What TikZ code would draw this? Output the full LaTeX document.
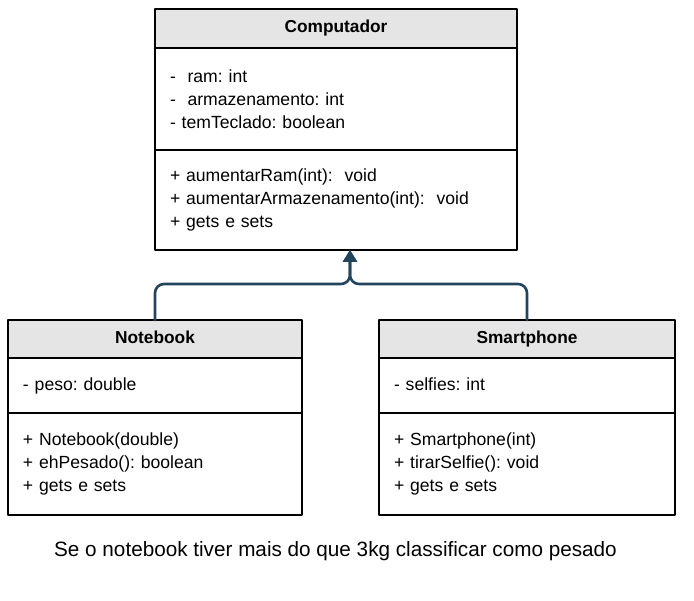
\documentclass[tikz,border=0pt]{standalone}
\usepackage{fontspec}
\setmainfont{Liberation Sans}
\frenchspacing
\usetikzlibrary{arrows.meta,positioning}
\definecolor{hdgray}{rgb}{0.9,0.9,0.9}
\definecolor{arrblue}{HTML}{23445D}

\begin{document}
\begin{tikzpicture}[line cap=round,line join=round,>={Triangle[length=12pt,width=14pt]},x=1pt,y=1pt,
	classhead/.style={draw,fill=hdgray,line width=1.2pt,outer sep=0pt,inner sep=0pt,font=\fontsize{17.3}{21}\selectfont\bfseries},
	classbody/.style={draw,line width=1.2pt,outer sep=0pt,inner xsep=15pt,inner ysep=0pt,align=left,font=\fontsize{17.6}{23}\selectfont},
	herda/.style={arrblue,line width=2.6pt,rounded corners=9pt,->}]
			\useasboundingbox (0,0) rectangle (694,-601);
			\node[classhead,minimum width=362,minimum height=39] (comp) at (336,-28.5) {Computador\strut};
			\node[classbody,text width=332,minimum height=102,below=0pt of comp] (compattr) {-\ \ ram: int\\-\ \ armazenamento: int\\- temTeclado: boolean};
			\node[classbody,text width=332,minimum height=100,below=0pt of compattr] (compmeth) {+ aumentarRam(int):\ \ void\\+ aumentarArmazenamento(int):\ \ void\\+ gets e sets};
			\node[classhead,minimum width=294,minimum height=38] (note) at (155,-339) {Notebook\strut};
			\node[classbody,text width=264,minimum height=55,below=0pt of note] (noteattr) {- peso: double\strut};
			\node[classbody,text width=264,minimum height=102,below=0pt of noteattr] (notemeth) {+ Notebook(double)\\+ ehPesado(): boolean\\+ gets e sets};
			\node[classhead,minimum width=296,minimum height=38] (smart) at (527,-339) {Smartphone\strut};
			\node[classbody,text width=266,minimum height=55,below=0pt of smart] (smartattr) {- selfies: int\strut};
			\node[classbody,text width=266,minimum height=102,below=0pt of smartattr] (smartmeth) {+ Smartphone(int)\\+ tirarSelfie(): void\\+ gets e sets};
			\coordinate (tip) at ([xshift=14]compmeth.south);
			\draw[herda] (note.north) |- ([yshift=-34]tip) -- (tip);
			\draw[herda] (smart.north) |- ([yshift=-34]tip) -- (tip);
			\node[font=\fontsize{20.7}{25}\selectfont] (obs) at (335.5,-551) {Se o notebook tiver mais do que 3kg classificar como pesado};
			\end{tikzpicture}
\end{document}
